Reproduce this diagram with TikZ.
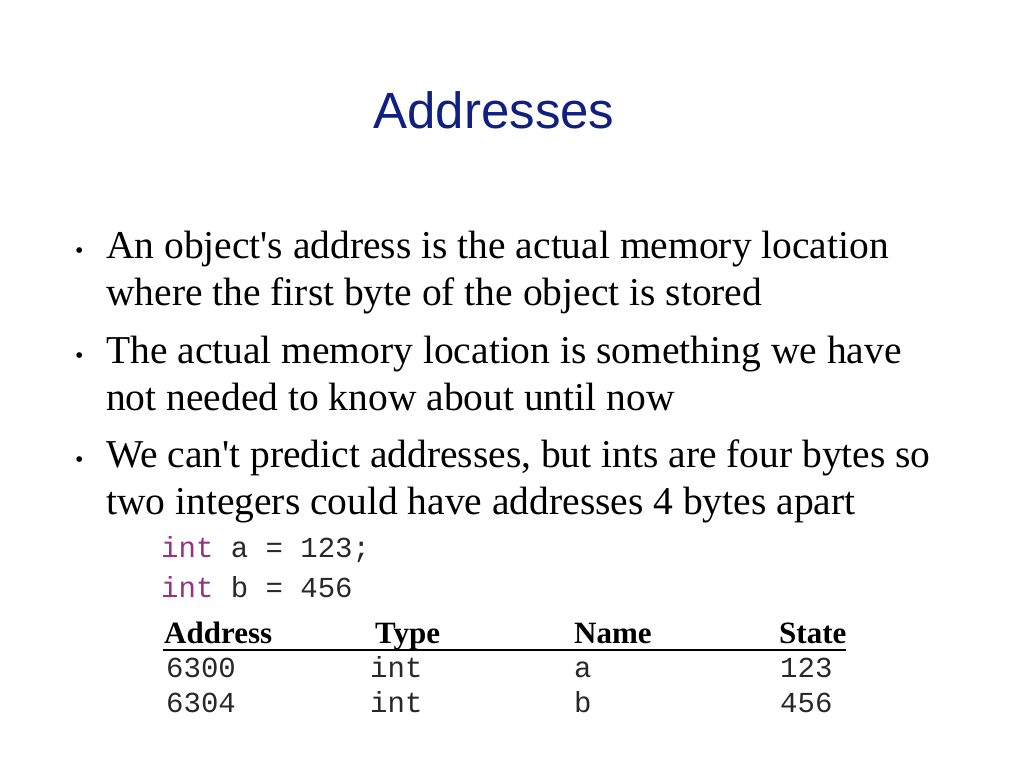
\documentclass[tikz,border=0pt]{standalone}
\usepackage{fontspec}
\setmainfont{Liberation Serif}
\newfontfamily\titlefont{Liberation Sans}
\newfontfamily\codefont{Liberation Mono}
\definecolor{navy}{RGB}{16,32,128}
\definecolor{kw}{RGB}{150,50,130}
\definecolor{codegray}{RGB}{40,40,40}
\begin{document}
\begin{tikzpicture}[x=1pt,y=-1pt,
  body/.style={anchor=base west,inner sep=0pt,font=\fontsize{39.5}{44}\selectfont},
  bul/.style={anchor=base west,inner sep=0pt,font=\fontsize{24}{28}\selectfont},
  code/.style={anchor=base west,inner sep=0pt,text=codegray,font=\codefont\fontsize{29}{33}\selectfont},
  hdr/.style={anchor=base west,inner sep=0pt,font=\bfseries\fontsize{31}{35}\selectfont}]
\useasboundingbox (0,0) rectangle (1024,768);
\node[anchor=base,inner sep=0pt,font=\titlefont\fontsize{51}{55}\selectfont,text=navy] (title) at (494,128) {Addresses};
\foreach \n/\y in {1/258,2/363,3/467}{\node[bul] (b\n) at (75,\y) {\textbullet};}
\node[body] (l1) at (106,258) {An object\textquotesingle s address is the actual memory location};
\node[body] (l2) at (106,305) {where the first byte of the object is stored};
\node[body] (l3) at (106,363) {The actual memory location is something we have};
\node[body] (l4) at (106,410) {not needed to know about until now};
\node[body] (l5) at (106,467) {We can\textquotesingle t predict addresses, but ints are four bytes so};
\node[body] (l6) at (106,514) {two integers could have addresses 4 bytes apart};
\node[code] (c1) at (161,557) {\textcolor{kw}{int} a = 123;};
\node[code] (c2) at (161,597) {\textcolor{kw}{int} b = 456};
\node[hdr] (h1) at (164,643) {Address};
\node[hdr] (h2) at (375,643) {Type};
\node[hdr] (h3) at (574,643) {Name};
\node[hdr] (h4) at (779,643) {State};
\coordinate (u1) at (163,650); \coordinate (u2) at (846,650);
\draw[line width=1.5pt] (u1) -- (u2);
\node[code] (r11) at (166,677) {6300};
\node[code] (r12) at (370,677) {int};
\node[code] (r13) at (574,677) {a};
\node[code] (r14) at (780,677) {123};
\node[code] (r21) at (166,712) {6304};
\node[code] (r22) at (370,712) {int};
\node[code] (r23) at (574,712) {b};
\node[code] (r24) at (780,712) {456};
\end{tikzpicture}
\end{document}
